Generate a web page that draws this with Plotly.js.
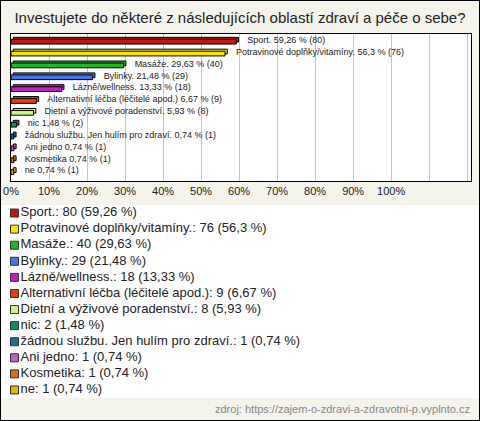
<!DOCTYPE html>
<html>
<head>
<meta charset="utf-8">
<script src="https://cdn.plot.ly/plotly-3.0.1.min.js"></script>
<style>
html,body{margin:0;padding:0;background:#f4f3ec;}
#chart{width:478px;height:419px;border:1px solid #000;}
</style>
</head>
<body>
<div id="chart"></div>
<script>
const names = ["Sport.", "Potravinové doplňky/vitamíny.", "Masáže.", "Bylinky.", "Lázně/wellness.",
  "Alternativní léčba (léčitelé apod.)", "Dietní a výživové poradenství.", "nic",
  "žádnou službu. Jen hulím pro zdraví.", "Ani jedno", "Kosmetika", "ne"];
const counts = [80, 76, 40, 29, 18, 9, 8, 2, 1, 1, 1, 1];
const percents = [59.26, 56.3, 29.63, 21.48, 13.33, 6.67, 5.93, 1.48, 0.74, 0.74, 0.74, 0.74];
const colors = ["#c01a10", "#f8e400", "#1fb81f", "#4a72e8", "#c21ec2", "#e2400e",
  "#c8f488", "#0e9258", "#1a7090", "#c060c8", "#e0700e", "#e6b400"];
const xTicks = [0, 10, 20, 30, 40, 50, 60, 70, 80, 90, 100, 110, 120];
const xTickLabels = ["0%", "10%", "20%", "30%", "40%", "50%", "60%", "70%", "80%", "90%", "100%", "", ""];

const fmt = v => String(v).replace('.', ',');
const barLabels = names.map((n, i) => n + " " + fmt(percents[i]) + " % (" + counts[i] + ")");
const legendText = names.map((n, i) => n + ": " + counts[i] + " (" + fmt(percents[i]) + " %)");

const FONT = "Liberation Sans, Arial, sans-serif";
const W = 478, H = 419;
const bw = 0.4, depth = 0.17, shiftX = 0.6;
const idx = names.map((n, i) => i);

const back = {
  type: 'bar', orientation: 'h',
  x: percents, y: idx,
  base: percents.map(() => shiftX),
  width: idx.map(() => bw), offset: idx.map(() => -bw/2 - depth),
  marker: {color: colors, line: {color: '#000', width: 1}},
  hoverinfo: 'skip', showlegend: false, xaxis: 'x', yaxis: 'y'
};
const front = {
  type: 'bar', orientation: 'h',
  x: percents, y: idx,
  width: idx.map(() => bw), offset: idx.map(() => -bw/2),
  marker: {color: colors, line: {color: '#000', width: 1}},
  hoverinfo: 'skip', showlegend: false, xaxis: 'x', yaxis: 'y'
};
const labels = {
  type: 'scatter', mode: 'markers+text',
  x: percents, y: idx.map(i => i - depth/2),
  marker: {size: 16, opacity: 0},
  text: barLabels, textposition: 'middle right',
  textfont: {family: FONT, size: 9, color: '#222'},
  hoverinfo: 'skip', showlegend: false, xaxis: 'x', yaxis: 'y', cliponaxis: false
};
const legendTrace = {
  type: 'scatter', mode: 'markers+text',
  x: idx.map(() => 0), y: idx,
  marker: {symbol: 'square', size: 8, color: colors, line: {color: '#333', width: 1}},
  text: legendText, textposition: 'middle right',
  textfont: {family: FONT, size: 13, color: '#222'},
  hoverinfo: 'skip', showlegend: false, xaxis: 'x2', yaxis: 'y2', cliponaxis: false
};

const layout = {
  width: W, height: H,
  margin: {l: 0, r: 0, t: 0, b: 0},
  paper_bgcolor: '#f4f3ec', plot_bgcolor: '#ffffff',
  font: {family: FONT, color: '#222'},
  barmode: 'overlay',
  title: {text: "Investujete do některé z následujících oblastí zdraví a péče o sebe?",
    font: {family: FONT, size: 15, color: '#222'}, x: 0.5, xanchor: 'center',
    y: 1 - 17/H, yanchor: 'middle', yref: 'container'},
  xaxis: {domain: [10/W, 470/W], range: [0, 121], tickvals: xTicks, ticktext: xTickLabels,
    showgrid: true, gridcolor: '#c4c4c4', gridwidth: 1, zeroline: false,
    showline: true, mirror: true, linecolor: '#000', linewidth: 1, ticks: '',
    tickfont: {family: FONT, size: 11, color: '#222'}, fixedrange: true},
  yaxis: {domain: [1 - 180/H, 1 - 33/H], range: [11.75, -0.65], showgrid: false, zeroline: false,
    showline: true, mirror: true, linecolor: '#000', linewidth: 1, showticklabels: false, ticks: '', fixedrange: true},
  xaxis2: {domain: [0, 1], range: [-13.5, 464.5], visible: false, fixedrange: true},
  yaxis2: {domain: [1 - 397/H, 1 - 204/H], range: [11.5, -0.5], visible: false, fixedrange: true},
  annotations: [{
    text: "zdroj: https://zajem-o-zdravi-a-zdravotni-p.vyplnto.cz",
    xref: 'paper', yref: 'paper', x: 471/W, y: 1 - 408/H, xanchor: 'right', yanchor: 'middle',
    showarrow: false, font: {family: FONT, size: 11, color: '#888'}
  }]
};

Plotly.newPlot('chart', [back, front, labels, legendTrace], layout, {displayModeBar: false, staticPlot: true});
</script>
</body>
</html>
